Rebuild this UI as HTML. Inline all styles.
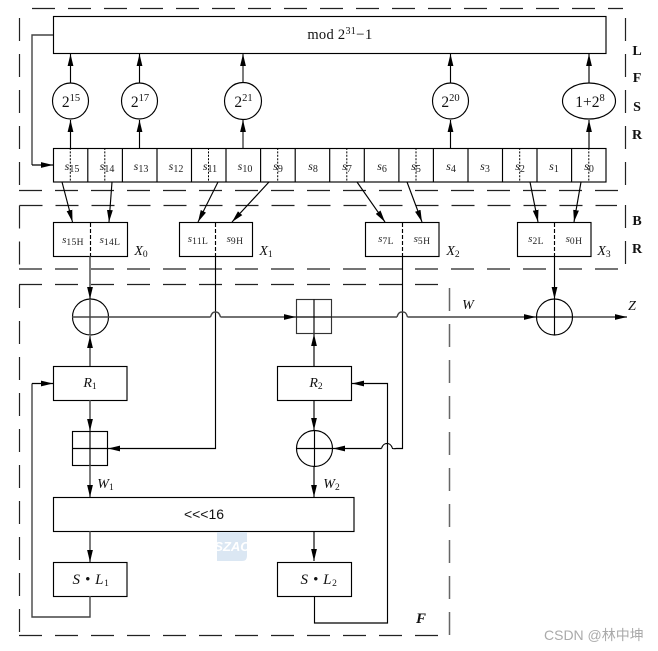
<!DOCTYPE html>
<html><head><meta charset="utf-8">
<style>
html,body{margin:0;padding:0;background:#fff;width:658px;height:651px;overflow:hidden}
svg{display:block}
text{font-family:"Liberation Serif",serif;fill:#111}
.s{font-size:12px;font-style:italic;text-anchor:middle;fill:#222}
.s tspan{font-style:normal;font-size:10px}
.x{font-size:11px;font-style:italic;text-anchor:middle;fill:#222}
.x tspan{font-style:normal;font-size:9.5px;letter-spacing:.4px}
.i{font-size:13px;font-style:italic;text-anchor:middle}
.i tspan{font-style:normal;font-size:9.5px}
.b{font-size:14px;font-weight:bold;text-anchor:middle}
.n{font-size:15.5px;text-anchor:middle}
.n tspan{font-size:10.5px}
.d{fill:none;stroke:#222;stroke-width:1.2;stroke-dasharray:23 13}
.l{fill:none;stroke:#000;stroke-width:1.15}
.g{fill:none;stroke:#444;stroke-width:1.4}
.o{fill:none;stroke:#000;stroke-width:1;stroke-dasharray:2 1.4}
</style></head><body>
<svg width="658" height="651" viewBox="0 0 658 651" xmlns="http://www.w3.org/2000/svg">
<defs>
<marker id="a" markerUnits="userSpaceOnUse" markerWidth="13" markerHeight="7" refX="12" refY="3.5" orient="auto"><path d="M0,.6 L12,3.5 L0,6.4Z" fill="#000"/></marker>
</defs>

<!-- dashed boxes -->
<path class="d" d="M32 8.5H623"/>
<path class="d" d="M19.5 18V186"/>
<path class="d" d="M625.5 18V186"/>
<path class="d" d="M19 190.5H623"/>
<path class="d" d="M19.5 205.5H617"/>
<path class="d" d="M19.5 205.5V269"/>
<path class="d" d="M625.5 205V265"/>
<path class="d" d="M19 269H620"/>
<path class="d" d="M19 284.5H440"/>
<path class="d" d="M19.5 285V636"/>
<path class="d" d="M449.5 288V636" style="stroke:#666;stroke-width:1.5"/>
<path class="d" d="M19 635.5H440"/>

<!-- top box -->
<rect class="l" x="53.5" y="16.5" width="552.5" height="37"/>
<text x="340" y="39" font-size="14.5" text-anchor="middle" style="letter-spacing:.3px">mod 2<tspan font-size="10" dy="-5">31</tspan><tspan dy="5" font-size="15">−1</tspan></text>

<!-- feedback -->
<path class="g" d="M53 35H32V165"/>
<path class="l" d="M32 165H53" marker-end="url(#a)"/>

<!-- circles -->
<circle class="l" cx="70.5" cy="101" r="18"/>
<circle class="l" cx="139.5" cy="101" r="18"/>
<circle class="l" cx="243" cy="101" r="18.5"/>
<circle class="l" cx="450.5" cy="101" r="18"/>
<ellipse class="l" cx="589" cy="101" rx="26.5" ry="18"/>
<text class="n" x="71" y="107">2<tspan dy="-6">15</tspan></text>
<text class="n" x="140" y="107">2<tspan dy="-6">17</tspan></text>
<text class="n" x="243.5" y="107">2<tspan dy="-6">21</tspan></text>
<text class="n" x="450.5" y="107">2<tspan dy="-6">20</tspan></text>
<text class="n" x="590" y="107">1+2<tspan dy="-6">8</tspan></text>

<!-- arrows into top box -->
<path class="l" d="M70.5 83V54" marker-end="url(#a)"/>
<path class="l" d="M139.5 83V54" marker-end="url(#a)"/>
<path class="g" d="M243 82V54" marker-end="url(#a)"/>
<path class="l" d="M450.5 83V54" marker-end="url(#a)"/>
<path class="l" d="M589 83V54" marker-end="url(#a)"/>

<!-- arrows from register -->
<path class="l" d="M70.5 148V120" marker-end="url(#a)"/>
<path class="l" d="M139.5 148V120" marker-end="url(#a)"/>
<path class="g" d="M243 148V120" marker-end="url(#a)"/>
<path class="l" d="M450.5 148V120" marker-end="url(#a)"/>
<path class="l" d="M589 148V120" marker-end="url(#a)"/>

<!-- register -->
<rect class="l" x="53.5" y="148.5" width="552.5" height="33.5"/>
<path class="l" d="M87.8 148V182M122.4 148V182M157 148V182M191.5 148V182M226 148V182M260.6 148V182M295.2 148V182M329.7 148V182M364.3 148V182M398.9 148V182M433.4 148V182M468 148V182M502.5 148V182M537 148V182M571.6 148V182"/>
<path class="o" d="M70.3 148V182M104.8 148V182M208.5 148V182M277.7 148V182M346.8 148V182M416 148V182M519.7 148V182M588.8 148V182"/>
<text class="s" x="72" y="170">s<tspan dy="2">15</tspan></text>
<text class="s" x="107" y="170">s<tspan dy="2">14</tspan></text>
<text class="s" x="141" y="170">s<tspan dy="2">13</tspan></text>
<text class="s" x="176" y="170">s<tspan dy="2">12</tspan></text>
<text class="s" x="210" y="170">s<tspan dy="2">11</tspan></text>
<text class="s" x="245" y="170">s<tspan dy="2">10</tspan></text>
<text class="s" x="278" y="170">s<tspan dy="2">9</tspan></text>
<text class="s" x="313" y="170">s<tspan dy="2">8</tspan></text>
<text class="s" x="347" y="170">s<tspan dy="2">7</tspan></text>
<text class="s" x="382" y="170">s<tspan dy="2">6</tspan></text>
<text class="s" x="416" y="170">s<tspan dy="2">5</tspan></text>
<text class="s" x="451" y="170">s<tspan dy="2">4</tspan></text>
<text class="s" x="485" y="170">s<tspan dy="2">3</tspan></text>
<text class="s" x="520" y="170">s<tspan dy="2">2</tspan></text>
<text class="s" x="554" y="170">s<tspan dy="2">1</tspan></text>
<text class="s" x="589" y="170">s<tspan dy="2">0</tspan></text>

<!-- diagonal arrows -->
<path class="l" d="M62 182L72.5 222" marker-end="url(#a)"/>
<path class="l" d="M112 182L109 222" marker-end="url(#a)"/>
<path class="l" d="M218 182L198 222" marker-end="url(#a)"/>
<path class="l" d="M269 182L232 222" marker-end="url(#a)"/>
<path class="l" d="M357 182L385 222" marker-end="url(#a)"/>
<path class="l" d="M407 182L422 222" marker-end="url(#a)"/>
<path class="l" d="M530 182L538 222" marker-end="url(#a)"/>
<path class="l" d="M581 182L574 222" marker-end="url(#a)"/>

<!-- X boxes -->
<rect class="l" x="53.5" y="222.5" width="74" height="34"/>
<rect class="l" x="179.5" y="222.5" width="73" height="34"/>
<rect class="l" x="365.5" y="222.5" width="73.5" height="34"/>
<rect class="l" x="517.5" y="222.5" width="73.5" height="34"/>
<path class="l" d="M90.5 223V256M215.5 223V256M402.5 223V256M554.5 223V256" stroke-dasharray="4 2"/>
<text class="x" x="73" y="243">s<tspan dy="2">15H</tspan></text>
<text class="x" x="110" y="243">s<tspan dy="2">14L</tspan></text>
<text class="x" x="198" y="242">s<tspan dy="2">11L</tspan></text>
<text class="x" x="235" y="242">s<tspan dy="2">9H</tspan></text>
<text class="x" x="386" y="242">s<tspan dy="2">7L</tspan></text>
<text class="x" x="422" y="242">s<tspan dy="2">5H</tspan></text>
<text class="x" x="536" y="242">s<tspan dy="2">2L</tspan></text>
<text class="x" x="574" y="242">s<tspan dy="2">0H</tspan></text>
<text class="i" x="141" y="255" style="font-size:14px">X<tspan dy="2">0</tspan></text>
<text class="i" x="266" y="255" style="font-size:14px">X<tspan dy="2">1</tspan></text>
<text class="i" x="453" y="255" style="font-size:14px">X<tspan dy="2">2</tspan></text>
<text class="i" x="604" y="255" style="font-size:14px">X<tspan dy="2">3</tspan></text>

<!-- LFSR labels -->
<text class="b" x="637" y="55">L</text>
<text class="b" x="637" y="82">F</text>
<text class="b" x="637" y="111">S</text>
<text class="b" x="637" y="139">R</text>
<text class="b" x="637" y="225">B</text>
<text class="b" x="637" y="253">R</text>

<!-- verticals from X -->
<path class="g" d="M90 256V299" marker-end="url(#a)"/>
<path class="l" d="M215.5 256V448.5H108" marker-end="url(#a)"/>
<path class="l" d="M402.5 256V448.5H396.5"/>
<path class="l" d="M554.5 256V299" marker-end="url(#a)"/>

<!-- XOR top left -->
<circle class="l" cx="90.5" cy="317" r="18"/>
<path class="g" d="M72 317H108M90 299V335"/>
<path class="g" d="M108 317H210.5"/>
<path class="g" d="M210.5 317C212 312 214 312 215.5 312C217 312 219 312 220.5 317"/>
<path class="g" d="M220.5 317H296" marker-end="url(#a)"/>

<!-- adder top -->
<rect class="l" x="296.5" y="299.5" width="35" height="34" style="stroke:#333"/>
<path class="l" d="M314 299.5V333M296.5 317H331.5"/>
<path class="g" d="M331.5 317H397"/>
<path class="g" d="M397 317C398.5 312 400.5 312 402.5 312C404.5 312 406 312 407.5 317"/>
<path class="g" d="M407.5 317H536" marker-end="url(#a)"/>

<!-- XOR right -->
<circle class="l" cx="554.5" cy="317" r="18"/>
<path class="l" d="M554.5 299V335M536.5 317H572.5"/>
<path class="g" d="M573 317H627" marker-end="url(#a)"/>
<text class="i" x="468" y="309" style="font-size:14px">W</text>
<text class="i" x="632" y="310" style="font-size:14px">Z</text>

<!-- R boxes -->
<rect class="l" x="53.5" y="366.5" width="73.5" height="34"/>
<rect class="l" x="277.5" y="366.5" width="74" height="34"/>
<text class="i" x="90" y="387" style="font-size:14px">R<tspan dy="2">1</tspan></text>
<text class="i" x="316" y="387" style="font-size:14px">R<tspan dy="2">2</tspan></text>
<path class="g" d="M90 366V336" marker-end="url(#a)"/>
<path class="l" d="M314 366V334" marker-end="url(#a)"/>
<path class="g" d="M90 400V431" marker-end="url(#a)"/>
<path class="l" d="M314 400V430" marker-end="url(#a)"/>

<!-- second row -->
<rect class="l" x="72.5" y="431.5" width="35" height="34"/>
<path class="l" d="M90 431.5V465M72.5 448.5H107.5"/>
<circle class="l" cx="314.5" cy="448.5" r="18"/>
<path class="l" d="M314.5 430V467M296.5 448.5H332.5"/>
<path class="l" d="M381.5 448.5H333" marker-end="url(#a)"/>
<path class="l" d="M381.5 448.5C383 444 385 443.5 387 443.5C389 443.5 391 444 392.5 448.5C394 449 395 448.5 396.5 448.5"/>

<!-- W labels -->
<path class="g" d="M90 465V497" marker-end="url(#a)"/>
<path class="l" d="M314 467V497" marker-end="url(#a)"/>
<text class="i" x="105.5" y="488" style="font-size:14px">W<tspan dy="2">1</tspan></text>
<text class="i" x="331.5" y="488" style="font-size:14px">W<tspan dy="2">2</tspan></text>

<!-- rotate box -->
<rect class="l" x="53.5" y="497.5" width="300.5" height="34"/>
<text x="204" y="519" font-size="14" text-anchor="middle" style="font-family:'Liberation Sans',sans-serif">&lt;&lt;&lt;16</text>

<!-- watermark -->
<path d="M217 532H247V556Q247 561 242 561H217Z" fill="#dbe7f3"/>
<text x="232" y="551" font-size="13" font-weight="bold" font-style="italic" text-anchor="middle" style="font-family:'Liberation Sans',sans-serif;fill:#fff">SZAC</text>

<path class="g" d="M90 531V562" marker-end="url(#a)"/>
<path class="l" d="M314 531V561" marker-end="url(#a)"/>

<!-- S L boxes -->
<rect class="l" x="53.5" y="562.5" width="73.5" height="34"/>
<rect class="l" x="277.5" y="562.5" width="74" height="34"/>
<text class="i" x="91" y="584" style="font-size:15px;letter-spacing:.6px">S • L<tspan dy="2">1</tspan></text>
<text class="i" x="319" y="584" style="font-size:15px;letter-spacing:.6px">S • L<tspan dy="2">2</tspan></text>

<!-- loops -->
<path class="g" d="M90 596V617H32V383.5"/>
<path class="l" d="M32 383.5H53" marker-end="url(#a)"/>
<path class="l" d="M314.5 596V623H387.5V383.5H352" marker-end="url(#a)"/>

<text x="421" y="623" font-size="15" font-weight="bold" font-style="italic" text-anchor="middle">F</text>

<!-- CSDN mark -->
<text x="544" y="640" font-size="14" style="font-family:'Liberation Sans','Noto Sans CJK SC',sans-serif;fill:#aaa">CSDN @林中坤</text>
</svg>
</body></html>
